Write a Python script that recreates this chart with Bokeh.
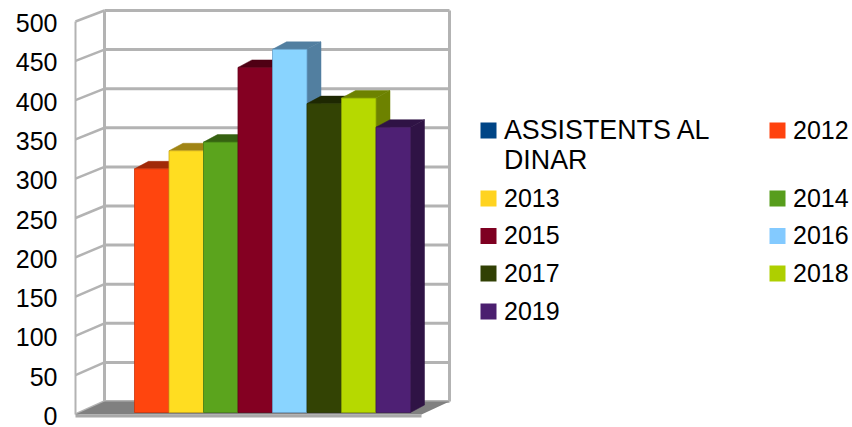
from bokeh.embed import file_html
from bokeh.resources import INLINE
from bokeh.plotting import figure
from bokeh.models import Range1d, LinearAxis, FixedTicker
from bokeh.core.properties import value

# ---- data ----
years = ["2012", "2013", "2014", "2015", "2016", "2017", "2018", "2019"]
attendees = [310, 333, 344, 439, 462, 393, 400, 363]
ticks = [0, 50, 100, 150, 200, 250, 300, 350, 400, 450, 500]
bar_colors = ["#ff420e", "#ffd320", "#579d1c", "#7e0021", "#83caff", "#314004", "#aecf00", "#4b1f6f"]
series_label = "ASSISTENTS AL"
series_label2 = "DINAR"
series_color = "#004586"

# ---- layout (picture pixels) ----
FONT = "Liberation Sans"
FS = "25px"
FS_LONG = "26.8px"
W, H = 852, 427
LEFT = 70
ORIGIN_Y, PX_PER_UNIT = 414.0, 0.786
BAR0_X, BAR_W = 134.0, 34.5
GRID = "#b3b3b3"


def shade(c, f=0.63):
    r, g, b = (int(c[i:i + 2], 16) for i in (1, 3, 5))
    return "#%02x%02x%02x" % (min(255, int(r * f)), min(255, int(g * f)), min(255, int(b * f)))


def Y(page_y):
    return (ORIGIN_Y - page_y) / PX_PER_UNIT


def X(page_x):
    return (page_x - BAR0_X) / BAR_W


x_range = Range1d(X(LEFT), X(W))
y_range = Range1d(Y(H), Y(0))
p = figure(width=W, height=H, x_range=x_range, y_range=y_range, output_backend="svg",
           toolbar_location=None, min_border_left=LEFT, min_border_right=0,
           min_border_top=0, min_border_bottom=0, outline_line_color=None,
           x_axis_location=None, y_axis_location=None, background_fill_color="white")
p.grid.visible = False

# tick labels sit slightly below the front wall's tick heights
LABEL_SHIFT = 1.5 / PX_PER_UNIT
p.extra_y_ranges["labels"] = Range1d(Y(H) + LABEL_SHIFT, Y(0) + LABEL_SHIFT)
axis = LinearAxis(y_range_name="labels", ticker=FixedTicker(ticks=ticks),
                  axis_line_color=None, major_tick_line_color=None, minor_tick_line_color=None,
                  major_label_standoff=7, major_label_text_font=FONT,
                  major_label_text_font_size=FS, major_label_text_color="#000000")
p.add_layout(axis, "left")

# ---- walls ----
front_l, back_l, back_r, floor_front_r = X(75), X(104), X(449), X(421)
DEPTH_Y = 13 / PX_PER_UNIT
back = [t * 0.995 + DEPTH_Y for t in ticks]
p.multi_line([[back_l, back_r]] * len(ticks), [[b, b] for b in back], line_color=GRID, line_width=3)
p.multi_line([[front_l, back_l]] * len(ticks), [[t, b] for t, b in zip(ticks, back)],
             line_color=GRID, line_width=2.5)
p.line([front_l, front_l], [ticks[0], ticks[-1]], line_color=GRID, line_width=2)
p.line([back_l, back_l], [back[0], back[-1]], line_color=GRID, line_width=3)
p.line([back_r, back_r], [back[0], back[-1]], line_color=GRID, line_width=3)

# ---- floor ----
p.patch([front_l, back_l, back_r, floor_front_r], [0, back[0], back[0], 0], fill_color="#808080", line_color=None)
p.line([front_l, floor_front_r], [Y(415.5), Y(415.5)], line_color="#a8a8a8", line_width=3)

# ---- bars ----
BASE = Y(412)
BX, BY = 14 / BAR_W, 7.5 / PX_PER_UNIT
for i, (v, c) in enumerate(zip(attendees, bar_colors)):
    l, r, top = i, i + 1, BASE + v
    dark = shade(c)
    p.patch([r, r + BX, r + BX, r], [BASE, BASE + BY, top + BY, top], fill_color=dark, line_color=dark, line_width=0.5)
    p.patch([l, l + BX, r + BX, r], [top, top + BY, top + BY, top], fill_color=dark, line_color=dark, line_width=0.5)
    p.quad(left=[l], right=[r], bottom=[BASE], top=[top], fill_color=shade(c, 1.05),
           line_color=shade(c, 0.8), line_width=0.8)

# ---- legend ----
entries = [series_label] + years
colors = [series_color] + bar_colors
rows = [130, 130, 198, 198, 235.5, 235.5, 273, 273, 311]
cols = [480, 769] * 4 + [480]
sw = 16
p.quad(left=[X(c) for c in cols], right=[X(c + sw) for c in cols],
       top=[Y(r - sw / 2) for r in rows], bottom=[Y(r + sw / 2) for r in rows],
       fill_color=colors, line_color=None)
p.text([X(c + 23.5) for c in cols[1:]], [Y(r - 1) for r in rows[1:]], text=years,
       text_font=value(FONT), text_font_size=value(FS),
       text_baseline="middle", text_align="left", text_color="#000000")
p.text([X(503.5), X(503.5)], [Y(129.5), Y(159.5)], text=[series_label, series_label2],
       text_font=value(FONT), text_font_size=value(FS_LONG),
       text_baseline="middle", text_align="left", text_color="#000000")

open("out.html", "w").write(file_html(p, INLINE))
